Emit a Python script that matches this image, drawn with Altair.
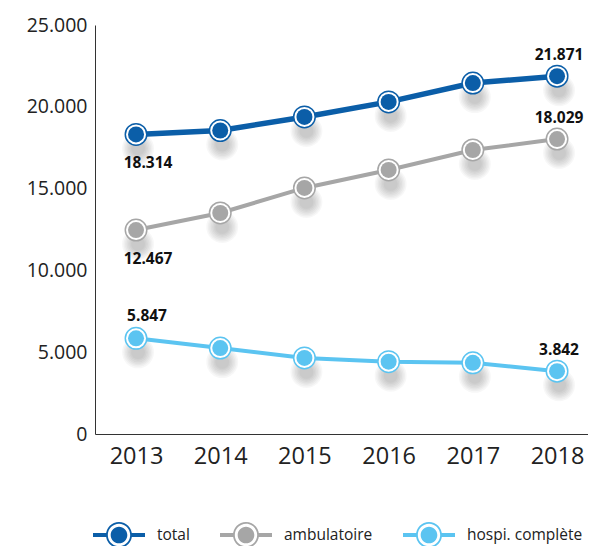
import altair as alt
import pandas as pd

years = ["2013", "2014", "2015", "2016", "2017", "2018"]
series_names = ["total", "ambulatoire", "hospi. complète"]
total = [18314, 18550, 19380, 20300, 21450, 21871]
ambulatoire = [12467, 13510, 15040, 16140, 17360, 18029]
hospi = [5847, 5250, 4650, 4420, 4350, 3842]
colors = ["#0b5ea8", "#a6a6a6", "#5bc4f1"]
y_ticks = [0, 5000, 10000, 15000, 20000, 25000]

rows = []
for name, vals in zip(series_names, [total, ambulatoire, hospi]):
    for yr, v in zip(years, vals):
        rows.append({"year": yr, "value": v, "series": name})
df = pd.DataFrame(rows)

FONT = "Open Sans"
fmt_expr = "replace(format(datum.value, ','), ',', '.')"

x_enc = alt.X("year:O", scale=alt.Scale(type="point", padding=0.4275, align=0.57),
              axis=alt.Axis(title=None, labelAngle=0, ticks=False, labelFontSize=23.5,
                            labelFont=FONT, labelColor="#222", labelPadding=10,
                            domainColor="#333", domainWidth=1, grid=False))
y_enc = alt.Y("value:Q", scale=alt.Scale(domain=[0, 25000], nice=False, zero=True),
              axis=alt.Axis(title=None, values=y_ticks, ticks=False, grid=False,
                            labelFontSize=19.5, labelFont=FONT, labelColor="#222",
                            labelPadding=8, domainColor="#333", domainWidth=1,
                            labelExpr=fmt_expr))

cscale = alt.Scale(domain=series_names, range=colors)

legend_path = (
    "M-2,-0.15 L-0.9,-0.15 L-0.9,0.15 L-2,0.15 Z "
    "M1,0 A1,1 0 1 1 -1,0 A1,1 0 1 1 1,0 Z "
    "M0.86,0 A0.86,0.86 0 1 0 -0.86,0 A0.86,0.86 0 1 0 0.86,0 Z "
    "M0.64,0 A0.64,0.64 0 1 1 -0.64,0 A0.64,0.64 0 1 1 0.64,0 Z "
    "M0.9,-0.15 L2,-0.15 L2,0.15 L0.9,0.15 Z"
)
legend = alt.Legend(title=None, orient="none", direction="horizontal",
                    legendX=11, legendY=497, padding=0,
                    symbolType=legend_path, symbolSize=676,
                    symbolStrokeWidth=0, symbolOpacity=1,
                    labelFont=FONT, labelFontSize=15.5, labelColor="#222",
                    labelOffset=25, columnPadding=30)

base = alt.Chart(df)

# Shadows (stacked soft circles)
shadows = []
for d in [32, 29, 26, 23, 20, 17, 14]:
    shadows.append(
        base.mark_circle(color="black", opacity=0.032, size=d * d, xOffset=2, yOffset=14)
        .encode(x=x_enc, y=y_enc)
    )

lines = base.mark_line().encode(
    x=x_enc, y=y_enc,
    color=alt.Color("series:N", scale=cscale, sort=series_names, legend=legend),
    strokeWidth=alt.condition(alt.datum.series == "total", alt.value(5.5), alt.value(4)),
    detail="series:N",
)

ring = base.mark_circle(fill="white", opacity=1, strokeWidth=1.5, size=462).encode(
    x=x_enc, y=y_enc,
    stroke=alt.Stroke("series:N", scale=cscale, sort=series_names, legend=legend),
)

inner = base.mark_circle(opacity=1, size=256).encode(
    x=x_enc, y=y_enc,
    fill=alt.Fill("series:N", scale=cscale, sort=series_names, legend=legend),
)

label_base = base.transform_calculate(label=fmt_expr)
lab_below_2013 = label_base.transform_filter(
    "datum.year == '2013' && datum.series != 'hospi. complète'"
).mark_text(font=FONT, fontWeight="bold", fontSize=15.5, color="#111", dy=29, dx=12).encode(
    x=x_enc, y=y_enc, text="label:N")
lab_above_2013 = label_base.transform_filter(
    "datum.year == '2013' && datum.series == 'hospi. complète'"
).mark_text(font=FONT, fontWeight="bold", fontSize=15.5, color="#111", dy=-22, dx=11).encode(
    x=x_enc, y=y_enc, text="label:N")
lab_above_2018 = label_base.transform_filter(
    "datum.year == '2018'"
).mark_text(font=FONT, fontWeight="bold", fontSize=15.5, color="#111", dy=-21, dx=2).encode(
    x=x_enc, y=y_enc, text="label:N")

chart = alt.layer(
    *shadows, lines, ring, inner, lab_below_2013, lab_above_2013, lab_above_2018
).properties(
    width=493, height=409,
    autosize=alt.AutoSizeParams(type="none"),
    padding={"left": 87, "top": 17, "right": 0, "bottom": 112},
).configure_view(stroke=None)

chart.save("out.html", embed_options={"renderer": "svg", "actions": False})
